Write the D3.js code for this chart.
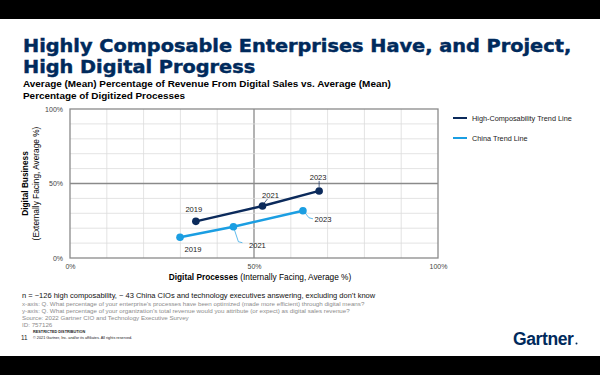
<!DOCTYPE html>
<html>
<head>
<meta charset="utf-8">
<script src="https://cdn.jsdelivr.net/npm/d3@7"></script>
<style>
  html, body { margin: 0; padding: 0; background: #000; }
  svg { display: block; font-family: "Liberation Sans", Arial, sans-serif; }
</style>
</head>
<body>
<svg id="chart" width="600" height="375"></svg>
<script>
// values
let years = ["2019", "2021", "2023"];
let highCompX = [34.2, 52.3, 67.7];
let highCompY = [24.6, 34.9, 45.0];
let chinaX = [29.9, 44.4, 63.3];
let chinaY = [13.9, 21.0, 31.7];
let tickValues = [0, 50, 100];
let seriesNames = ["High-Composability Trend Line", "China Trend Line"];

let navy = "#0b2a5b";
let lightBlue = "#1b9ee2";
let titleColor = "#002a5c";

let svg = d3.select("#chart");

// white slide between black bars
svg.append("rect").attr("x", 0).attr("y", 19).attr("width", 600).attr("height", 337).attr("fill", "#fff");

// fit a text element to a given width by scaling its font size
function fitWidth(sel, base, width) {
    let size = base * width / sel.node().getComputedTextLength();
    sel.style("font-size", size + "px");
    return size;
}

// title: heavy type, stretched sideways to the slide's width
let titleLines = ["Highly Composable Enterprises Have, and Project,", "High Digital Progress"];
let titleG = svg.append("g");
let titles = titleG.selectAll(".title").data(titleLines).enter().append("text")
    .attr("class", "title")
    .attr("x", 0)
    .attr("y", (d, i) => 52.5 + i * 20.3)
    .attr("fill", titleColor)
    .attr("stroke", titleColor)
    .attr("stroke-width", 0.45)
    .style("font-family", "'DejaVu Sans', sans-serif")
    .style("font-weight", "bold")
    .style("font-size", "17.3px")
    .text(d => d);
let sx = 548 / titles.nodes()[0].getComputedTextLength();
titleG.attr("transform", "translate(23,0) scale(" + sx + ",1)");

let subtitle = ["Average (Mean) Percentage of Revenue From Digital Sales vs. Average (Mean)",
    "Percentage of Digitized Processes"];
let subs = svg.selectAll(".subtitle").data(subtitle).enter().append("text")
    .attr("class", "subtitle")
    .attr("x", 23)
    .attr("y", (d, i) => 87 + i * 11.5)
    .attr("fill", "#000")
    .style("font-weight", "bold")
    .style("font-size", "9.3px")
    .text(d => d);
let sfs = fitWidth(d3.select(subs.nodes()[0]), 9.3, 368);
subs.style("font-size", sfs + "px");

// plot area
let plotLeft = 70, plotRight = 438, plotTop = 109, plotBottom = 258;
let xScale = d3.scaleLinear().domain([0, 100]).range([plotLeft, plotRight]);
let yScale = d3.scaleLinear().domain([0, 100]).range([plotBottom, plotTop]);

let grid = svg.append("g");
grid.selectAll(".vg").data(d3.range(10, 100, 10)).enter().append("line")
    .attr("x1", d => xScale(d)).attr("x2", d => xScale(d))
    .attr("y1", plotTop).attr("y2", plotBottom)
    .attr("stroke", d => d === 50 ? "#8a8a8a" : "#dcdcdc")
    .attr("stroke-width", d => d === 50 ? 1.3 : 0.8);
grid.selectAll(".hg").data(d3.range(10, 100, 10)).enter().append("line")
    .attr("y1", d => yScale(d)).attr("y2", d => yScale(d))
    .attr("x1", plotLeft).attr("x2", plotRight)
    .attr("stroke", d => d === 50 ? "#8a8a8a" : "#dcdcdc")
    .attr("stroke-width", d => d === 50 ? 1.3 : 0.8);
grid.append("rect")
    .attr("x", plotLeft).attr("y", plotTop)
    .attr("width", plotRight - plotLeft).attr("height", plotBottom - plotTop)
    .attr("fill", "none").attr("stroke", "#8a8a8a").attr("stroke-width", 1.3);

// tick labels
let yAxis = d3.axisLeft(yScale).tickValues(tickValues).tickFormat(d => d + "%").tickSize(0).tickPadding(7);
svg.append("g").attr("transform", "translate(" + plotLeft + ",0)").call(yAxis)
    .call(g => g.select(".domain").remove())
    .selectAll("text").style("font-size", "7px").attr("fill", "#444").style("font-family", "Liberation Sans, Arial, sans-serif");
let xAxis = d3.axisBottom(xScale).tickValues(tickValues).tickFormat(d => d + "%").tickSize(0).tickPadding(6);
svg.append("g").attr("transform", "translate(0," + plotBottom + ")").call(xAxis)
    .call(g => g.select(".domain").remove())
    .selectAll("text").style("font-size", "7px").attr("fill", "#444").style("font-family", "Liberation Sans, Arial, sans-serif");

// axis titles
let xt = svg.append("text")
    .attr("x", 260).attr("y", 280)
    .attr("text-anchor", "middle")
    .style("font-size", "8.3px").attr("fill", "#000");
xt.append("tspan").style("font-weight", "bold").text("Digital Processes");
xt.append("tspan").text(" (Internally Facing, Average %)");

let yt = svg.append("g").attr("transform", "translate(28," + ((plotTop + plotBottom) / 2) + ") rotate(-90)");
yt.append("text").attr("text-anchor", "middle")
    .style("font-size", "8.3px").style("font-weight", "bold").text("Digital Business");
yt.append("text").attr("text-anchor", "middle").attr("y", 11)
    .style("font-size", "8.3px").text("(Externally Facing, Average %)");

// series
let series = [
    {name: seriesNames[0], color: navy, pts: years.map((y, i) => ({year: y, x: highCompX[i], y: highCompY[i]}))},
    {name: seriesNames[1], color: lightBlue, pts: years.map((y, i) => ({year: y, x: chinaX[i], y: chinaY[i]}))}
];

let line = d3.line().x(d => xScale(d.x)).y(d => yScale(d.y));

// label offsets from each point: [dx, dy] of text centre, optional leader
let labelLayout = [
    [{dx: -2, dy: -12}, {dx: 8, dy: -11, lead: [[1, -2], [5, -7]]}, {dx: -1, dy: -14, lead: [[0, -4], [0, -10]]}],
    [{dx: 13, dy: 12}, {dx: 24, dy: 19, lead: [[1, 3], [5, 15], [9, 16]]}, {dx: 20, dy: 9, lead: [[2, 2], [6, 7], [10, 8]]}]
];

series.forEach((s, si) => {
    let g = svg.append("g");
    g.append("path").datum(s.pts)
        .attr("d", line)
        .attr("fill", "none")
        .attr("stroke", s.color)
        .attr("stroke-width", 2.4);

    s.pts.forEach((p, i) => {
        let lay = labelLayout[si][i];
        let px = xScale(p.x), py = yScale(p.y);
        if (lay.lead) {
            g.append("path")
                .attr("d", d3.line()(lay.lead.map(o => [px + o[0], py + o[1]])))
                .attr("fill", "none")
                .attr("stroke", s.color)
                .attr("stroke-width", 0.7);
        }
        g.append("text")
            .attr("x", px + lay.dx).attr("y", py + lay.dy + 2.7)
            .attr("text-anchor", "middle")
            .style("font-size", "7.6px").attr("fill", "#222")
            .text(p.year);
    });

    g.selectAll("circle").data(s.pts).enter().append("circle")
        .attr("cx", d => xScale(d.x))
        .attr("cy", d => yScale(d.y))
        .attr("r", 3.8)
        .attr("fill", s.color);
});

// legend
let legend = svg.selectAll(".legend").data(series).enter().append("g")
    .attr("class", "legend")
    .attr("transform", (d, i) => "translate(453," + (118 + i * 20) + ")");
legend.append("line").attr("x1", 0).attr("x2", 14)
    .attr("stroke", d => d.color).attr("stroke-width", 2);
legend.append("text").attr("x", 19).attr("y", 2.5)
    .style("font-size", "7.3px").attr("fill", "#222")
    .text(d => d.name);

// footnotes
svg.append("text").attr("x", 22).attr("y", 298)
    .style("font-size", "7.5px").attr("fill", "#111")
    .text("n = ~126 high composability, ~ 43 China CIOs and technology executives answering, excluding don\u2019t know");
let notes = ["x-axis: Q. What percentage of your enterprise\u2019s processes have been optimized (made more efficient) through digital means?",
    "y-axis: Q. What percentage of your organization\u2019s total revenue would you attribute (or expect) as digital sales revenue?",
    "Source: 2022 Gartner CIO and Technology Executive Survey",
    "ID: 757126"];
svg.selectAll(".note").data(notes).enter().append("text")
    .attr("x", 22).attr("y", (d, i) => 305.5 + i * 7.3)
    .style("font-size", "6.2px").attr("fill", "#8c8c8c")
    .text(d => d);
svg.append("text").attr("x", 33).attr("y", 332.5)
    .style("font-size", "3.8px").style("font-weight", "bold").attr("fill", "#222")
    .text("RESTRICTED DISTRIBUTION");
svg.append("text").attr("x", 21).attr("y", 339.5)
    .style("font-size", "6.3px").attr("fill", "#222").text("11");
svg.append("text").attr("x", 33).attr("y", 339)
    .style("font-size", "3.8px").attr("fill", "#222")
    .text("\u00a9 2021 Gartner, Inc. and/or its affiliates. All rights reserved.");

// logo word
svg.append("text").attr("x", 513).attr("y", 345)
    .style("font-size", "17.5px").style("font-weight", "bold").style("letter-spacing", "-0.4px")
    .attr("fill", titleColor).text("Gartner");
svg.append("circle").attr("cx", 576.5).attr("cy", 343.5).attr("r", 1).attr("fill", titleColor);
</script>
</body>
</html>
